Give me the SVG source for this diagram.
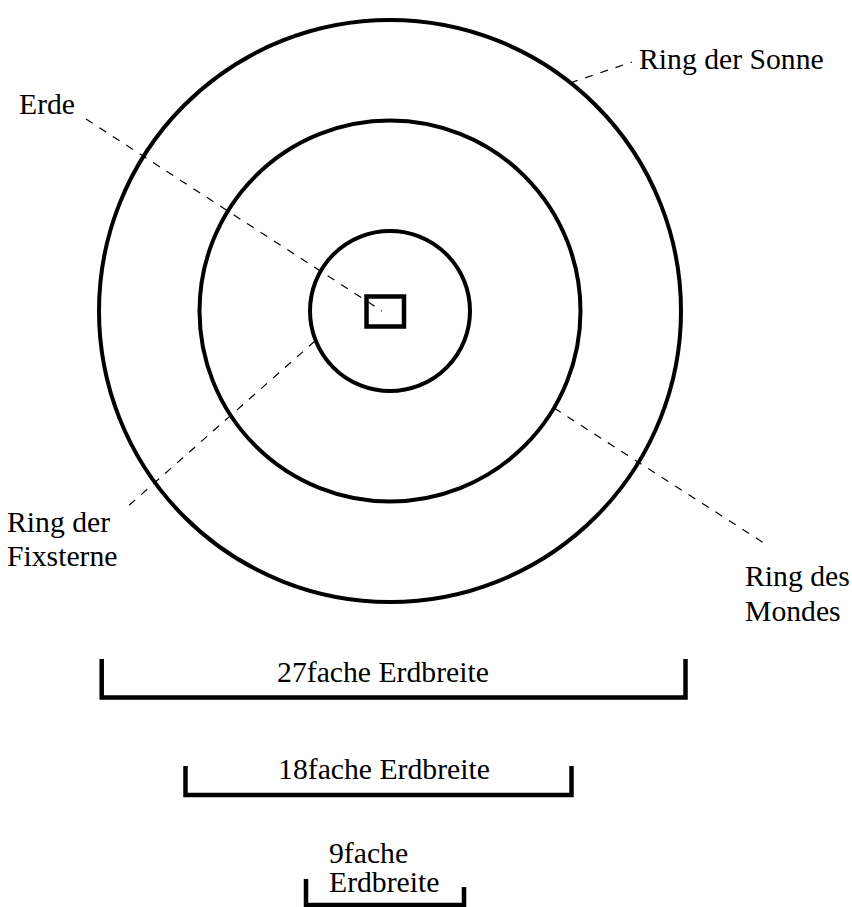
<svg xmlns="http://www.w3.org/2000/svg" width="852" height="907" viewBox="0 0 852 907">
<style>
.ring{fill:none;stroke:#000;stroke-width:4}
.dash{fill:none;stroke:#000;stroke-width:1.2;stroke-dasharray:8,8}
.br{fill:none;stroke:#000;stroke-width:4.5;stroke-linejoin:miter}
text{font-family:"Liberation Serif","Times New Roman",serif;font-size:29.7px;fill:#000}
</style>
<rect width="852" height="907" fill="#fff"/>
<g id="ring-sonne"><circle class="ring" cx="390" cy="311" r="291"/></g>
<g id="ring-mondes"><circle class="ring" cx="390" cy="311" r="190.5"/></g>
<g id="ring-fixsterne"><circle class="ring" cx="390" cy="311" r="80"/></g>
<g id="erde"><rect x="366.5" y="296.5" width="37.5" height="30" fill="none" stroke="#000" stroke-width="4.5"/></g>
<g id="connectors">
<line class="dash" x1="86" y1="119" x2="382" y2="311"/>
<line class="dash" x1="570" y1="83" x2="632" y2="62"/>
<line class="dash" x1="315" y1="341" x2="126" y2="508"/>
<line class="dash" x1="554" y1="408" x2="767" y2="545"/>
</g>
<g id="labels">
<text x="19" y="114">Erde</text>
<text x="639" y="69">Ring der Sonne</text>
<text x="7" y="532">Ring der</text>
<text x="7" y="566">Fixsterne</text>
<text x="745" y="586">Ring des</text>
<text x="745" y="621">Mondes</text>
</g>
<g id="scale-27">
<polyline class="br" points="101.7,659 101.7,697.5 685.5,697.5 685.5,659"/>
<text x="383" y="682" text-anchor="middle">27fache Erdbreite</text>
</g>
<g id="scale-18">
<polyline class="br" points="185.5,766 185.5,795 571.5,795 571.5,766"/>
<text x="384" y="779" text-anchor="middle">18fache Erdbreite</text>
</g>
<g id="scale-9">
<polyline class="br" points="306,879 306,905 464,905 464,887"/>
<text x="329" y="863">9fache</text>
<text x="329" y="892">Erdbreite</text>
</g>
</svg>
